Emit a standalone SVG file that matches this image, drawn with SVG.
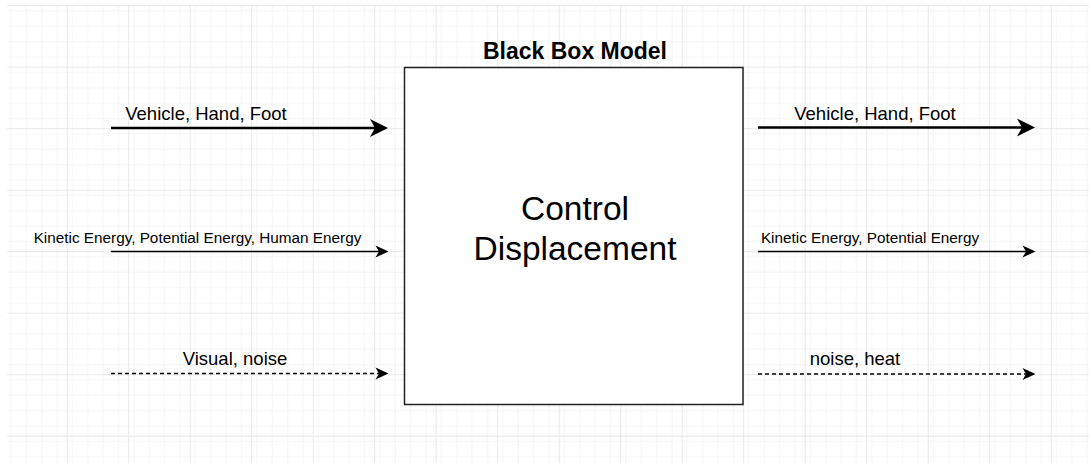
<svg xmlns="http://www.w3.org/2000/svg" width="1089" height="463" viewBox="0 0 1089 463">
  <style>
    .lbl { font-family: "Liberation Sans", Arial, sans-serif; fill: #000; text-anchor: middle; }
    .big { font-size: 18.5px; }
    .small { font-size: 15.3px; }
    .title { font-size: 23px; font-weight: bold; }
    .center { font-size: 33.5px; }
    .thick { stroke: #000; stroke-width: 2.6; fill: none; marker-end: url(#headBig); }
    .thin { stroke: #000; stroke-width: 1.6; fill: none; marker-end: url(#headSmall); }
    .dash { stroke: #000; stroke-width: 1.4; fill: none; stroke-dasharray: 4 3; marker-end: url(#headSmall); }
  </style>
  <defs>
    <pattern id="minor" patternUnits="userSpaceOnUse" x="5.2" y="5.2" width="15.375" height="15.375">
      <path d="M0,0.5 H15.375 M0.5,0 V15.375" stroke="#f4f4f4" stroke-width="1" fill="none"/>
    </pattern>
    <pattern id="major" patternUnits="userSpaceOnUse" x="5.2" y="5.2" width="61.5" height="61.5">
      <rect width="61.5" height="61.5" fill="url(#minor)"/>
      <path d="M0,0.5 H61.5 M0.5,0 V61.5" stroke="#e9e9e9" stroke-width="1" fill="none"/>
    </pattern>
    <marker id="headBig" viewBox="-20 -10 22 20" markerWidth="22" markerHeight="20" refX="-3" refY="0" orient="auto" markerUnits="userSpaceOnUse">
      <path d="M0,0 L-18,-9 L-13,0 L-18,9 Z" fill="#000"/>
    </marker>
    <marker id="headSmall" viewBox="-16 -8 18 16" markerWidth="18" markerHeight="16" refX="-3" refY="0" orient="auto" markerUnits="userSpaceOnUse">
      <path d="M0,0 L-13,-6 L-9.5,0 L-13,6 Z" fill="#000"/>
    </marker>
  </defs>
  <rect x="0" y="0" width="1089" height="463" fill="#fff"/>
  <rect x="7" y="5" width="1082" height="458" fill="url(#major)"/>

  <g id="title">
    <text class="lbl title" x="575" y="59">Black Box Model</text>
  </g>

  <g id="blackbox">
    <rect x="404.5" y="67.5" width="338.5" height="337" fill="#fff" stroke="#222" stroke-width="1.5"/>
    <text class="lbl center" x="575" y="220">Control</text>
    <text class="lbl center" x="575" y="260">Displacement</text>
  </g>

  <g id="connectors">
    <line class="thick" x1="111" y1="128" x2="385" y2="128"/>
    <line class="thin" x1="111" y1="251.5" x2="385.5" y2="251.5"/>
    <line class="dash" x1="111" y1="373.5" x2="385.5" y2="373.5"/>
    <line class="thick" x1="758" y1="127.5" x2="1032" y2="127.5"/>
    <line class="thin" x1="758" y1="251.5" x2="1032.5" y2="251.5"/>
    <line class="dash" x1="758" y1="374" x2="1032.5" y2="374"/>
  </g>

  <g id="labels">
    <text class="lbl big" x="206" y="120">Vehicle, Hand, Foot</text>
    <text class="lbl small" x="197.5" y="243">Kinetic Energy, Potential Energy, Human Energy</text>
    <text class="lbl big" x="235" y="365">Visual, noise</text>
    <text class="lbl big" x="875" y="120">Vehicle, Hand, Foot</text>
    <text class="lbl small" x="870" y="243">Kinetic Energy, Potential Energy</text>
    <text class="lbl big" x="855" y="365">noise, heat</text>
  </g>
</svg>
